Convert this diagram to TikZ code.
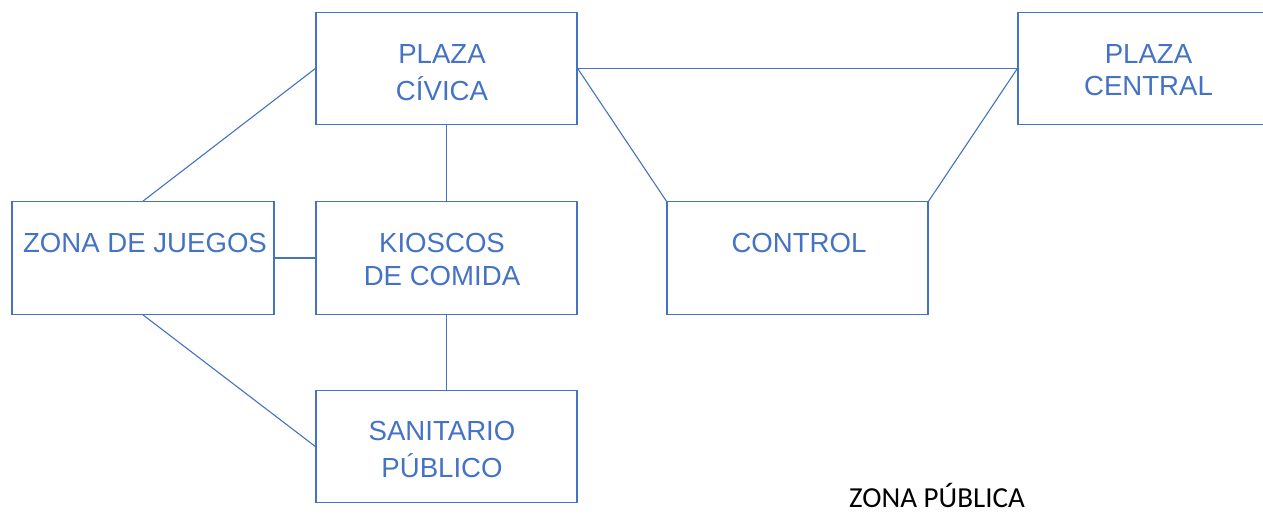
\documentclass[tikz,border=0pt]{standalone}
\usepackage{fontspec}
\setmainfont{Liberation Sans}
\newfontfamily\calfont{Carlito}
\usetikzlibrary{calc}
\definecolor{diagblue}{HTML}{4472C4}
\tikzset{
  boxnode/.style={draw=diagblue, line width=1.3pt, rectangle, inner sep=0pt,
    minimum width=261pt, minimum height=112.5pt},
  conn/.style={draw=diagblue, line width=1.1pt},
  lbl/.style={text=diagblue, inner sep=0pt, anchor=base,
    font=\fontsize{27.6}{33}\selectfont},
  note/.style={text=black, inner sep=0pt, anchor=base,
    font=\calfont\fontsize{29}{34}\selectfont}
}
\begin{document}
\begin{tikzpicture}[x=1pt,y=-1pt]
\useasboundingbox (0,0) rectangle (1263,514);
% boxes
\node[boxnode] (pc)  at (446.5,68.5) {};
\node[boxnode, minimum width=262pt] (zj) at (143,258) {};
\node[boxnode] (kc)  at (446.5,258) {};
\node[boxnode] (sp)  at (446.5,446.5) {};
\node[boxnode] (ct)  at (797.5,258) {};
\node[boxnode] (pce) at (1148.5,68.5) {};
% connectors
\draw[conn] (pc.west) -- (zj.north);
\draw[conn] (pc.south) -- (kc.north);
\draw[conn] (zj.east) -- (kc.west);
\draw[conn] (zj.south) -- (sp.west);
\draw[conn] (kc.south) -- (sp.north);
\draw[conn] (pc.east) -- (pce.west);
\draw[conn] (pc.east) -- (ct.north west);
\draw[conn] (ct.north east) -- (pce.west);
% labels
\node[lbl] (pc1) at (442,63.3) {PLAZA};
\node[lbl] (pc2) at (442,100) {CÍVICA};
\node[lbl] (zj1) at (145,252.3) {ZONA DE JUEGOS};
\node[lbl] (kc1) at (442,252.3) {KIOSCOS};
\node[lbl] (kc2) at (442,285.7) {DE COMIDA};
\node[lbl] (ct1) at (799,252.3) {CONTROL};
\node[lbl] (sp1) at (442,440.7) {SANITARIO};
\node[lbl] (sp2) at (442,477.3) {PÚBLICO};
\node[lbl] (pce1) at (1148.5,63.3) {PLAZA};
\node[lbl] (pce2) at (1148.5,95) {CENTRAL};
\node[note] (zp) at (937,507.3) {ZONA PÚBLICA};
\end{tikzpicture}
\end{document}
